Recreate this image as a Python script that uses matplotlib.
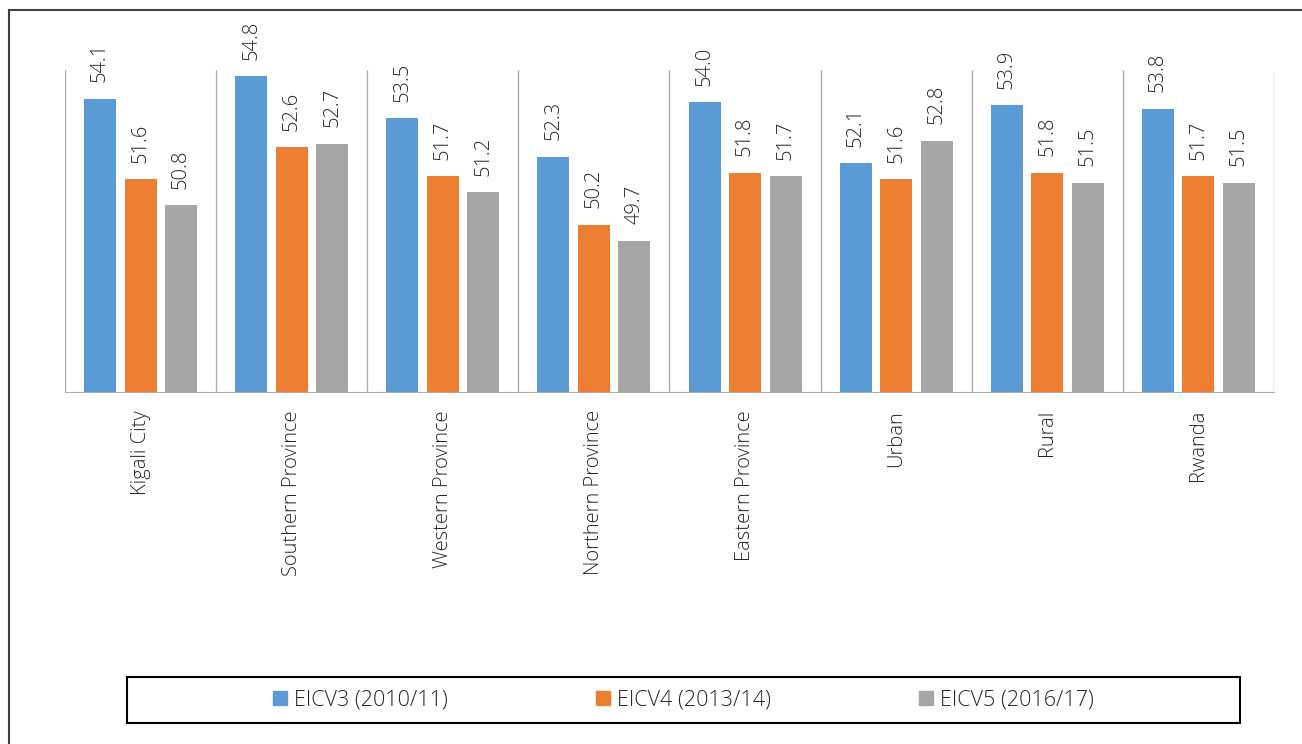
import numpy as np
import matplotlib.pyplot as plt
from matplotlib.patches import Patch, Rectangle

plt.rcParams["font.family"] = ["Open Sans", "DejaVu Sans"]
plt.rcParams["font.weight"] = "light"

categories = [
    "Kigali City",
    "Southern Province",
    "Western Province",
    "Northern Province",
    "Eastern Province",
    "Urban",
    "Rural",
    "Rwanda",
]
eicv3 = [54.1, 54.8, 53.5, 52.3, 54.0, 52.1, 53.9, 53.8]
eicv4 = [51.6, 52.6, 51.7, 50.2, 51.8, 51.6, 51.8, 51.7]
eicv5 = [50.8, 52.7, 51.2, 49.7, 51.7, 52.8, 51.5, 51.5]
series_names = ["EICV3 (2010/11)", "EICV4 (2013/14)", "EICV5 (2016/17)"]
colors = ["#5B9BD5", "#ED7D31", "#A5A5A5"]

text_color = "#262626"
grid_color = "#ADADAD"

fig = plt.figure(figsize=(13.02, 7.44), dpi=100)
ax = fig.add_axes([0.0499, 0.4731, 0.9286, 0.4328])

x = np.arange(len(categories))
width = 0.212
step = 0.268

for i, (vals, name, col) in enumerate(zip([eicv3, eicv4, eicv5], series_names, colors)):
    pos = x + (i - 1) * step
    ax.bar(pos, vals, width=width, color=col, label=name, zorder=3)
    for px, v in zip(pos, vals):
        ax.annotate(
            f"{v:.1f}",
            (px, v),
            xytext=(0, 12),
            textcoords="offset points",
            rotation=90,
            ha="center",
            va="bottom",
            fontsize=14.5,
            color=text_color,
        )

ax.set_ylim(45, 55)
ax.set_xlim(-0.5, len(categories) - 0.5)

# category separators
ax.vlines(np.arange(-0.5, len(categories)), 45, 55, color=grid_color, linewidth=1, zorder=1)

for side in ["top", "right", "left"]:
    ax.spines[side].set_visible(False)
ax.spines["bottom"].set_color(grid_color)
ax.set_yticks([])
ax.set_xticks(x)
ax.set_xticklabels(categories, rotation=90, fontsize=14.5, color=text_color, va="top")
ax.tick_params(axis="x", length=0, pad=13)

# legend without its own frame, boxed separately
fig.legend(
    handles=[Patch(color=c, label=n) for c, n in zip(colors, series_names)],
    loc="center",
    bbox_to_anchor=(683.5 / 1302, 1 - 700 / 744),
    ncol=3,
    frameon=False,
    fontsize=15.5,
    handlelength=0.65,
    handleheight=0.65,
    handletextpad=0.3,
    columnspacing=6.9,
    labelcolor=text_color,
)
fig.patches.append(
    Rectangle((127 / 1302, 1 - 723 / 744), 1113 / 1302, 46 / 744,
              transform=fig.transFigure, fill=False, edgecolor="black", linewidth=1.5)
)
# outer chart border
fig.patches.append(
    Rectangle((9 / 1302, -0.05), 1.1, 1 - 10 / 744 + 0.05,
              transform=fig.transFigure, fill=False, edgecolor="#404040", linewidth=1.5)
)

fig.savefig("out.png", dpi=100)
